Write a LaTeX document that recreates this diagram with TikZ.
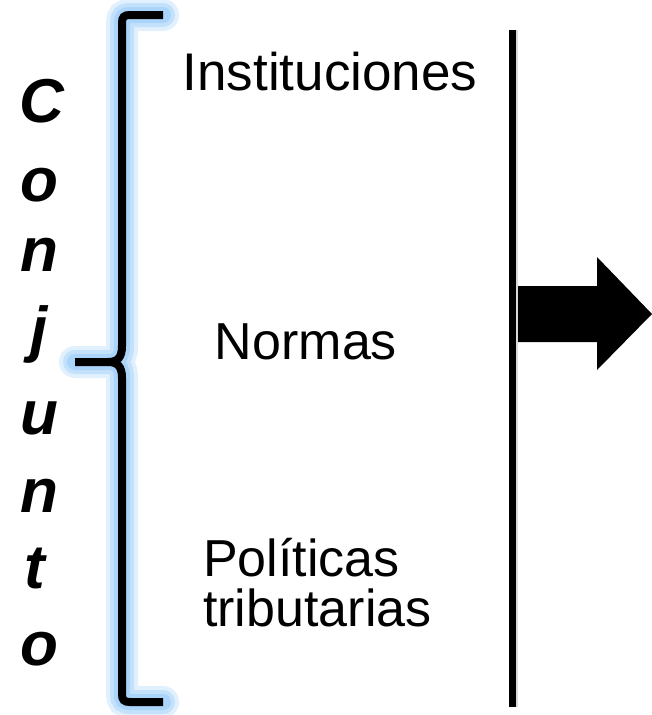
\documentclass[tikz,border=0pt]{standalone}
\usepackage{fontspec}
\setmainfont{Liberation Sans}
\usepackage{tikz}
\usetikzlibrary{calc}

\definecolor{glowblue}{RGB}{170,212,250}

\begin{document}
\begin{tikzpicture}[x=1pt, y=-1pt,
    letra/.style={anchor=base, inner sep=0pt, font=\fontsize{62}{62}\selectfont\bfseries\itshape},
    rotulo/.style={inner sep=0pt, font=\fontsize{52}{50}\selectfont},
    llave/.style={line width=8pt, black,
        preaction={draw=glowblue!35, line width=32pt, line cap=round},
        preaction={draw=glowblue!70, line width=24pt, line cap=round},
        preaction={draw=glowblue, line width=16pt, line cap=round}}]
    \useasboundingbox (0,0) rectangle (651,715);

    % letras de la izquierda
    \node[letra] (c1) at (42,122) {C};
    \node[letra] (o1) at ($(c1.base) + (-3, 79)$) {o};
    \node[letra] (n1) at ($(o1.base) + (0, 70)$) {n};
    \node[letra] (j) at ($(n1.base) + (0, 79)$) {j};
    \node[letra] (u) at ($(j.base) + (0, 84)$) {u};
    \node[letra] (n2) at ($(u.base) + (0, 78)$) {n};
    \node[letra] (t) at ($(n2.base) + (-4, 76)$) {t};
    \node[letra] (o2) at ($(t.base) + (4, 77)$) {o};

    % llave
    \draw[llave] (163,15) -- (130,15) .. controls (124,15) and (122,17) .. (122,23)
        -- (122,346) .. controls (122,357) and (118,362) .. (108,362) -- (75,362)
        (108,362) .. controls (118,362) and (122,367) .. (122,378)
        -- (122,694) .. controls (122,700) and (124,702) .. (130,702) -- (163,702);

    % textos
    \node[rotulo, anchor=base, font=\fontsize{53}{50}\selectfont] (inst) at (330,90) {Instituciones};
    \node[rotulo, anchor=base] (norm) at (306,359) {Normas};
    \node[rotulo, anchor=north west, align=left] (pol) at (203,538) {Políticas\\tributarias};

    % linea vertical
    \coordinate (arriba) at (512,30);
    \coordinate (abajo) at (512,707);
    \draw[gray!30, line width=4pt] ($(arriba) + (4,0)$) -- ($(abajo) + (4,0)$);
    \draw[line width=7pt] (arriba) -- (abajo);

    % flecha
    \fill (518,286) -- (597,286) -- (597,257) -- (652,314) -- (597,370) -- (597,342) -- (518,342) -- cycle;
\end{tikzpicture}
\end{document}
